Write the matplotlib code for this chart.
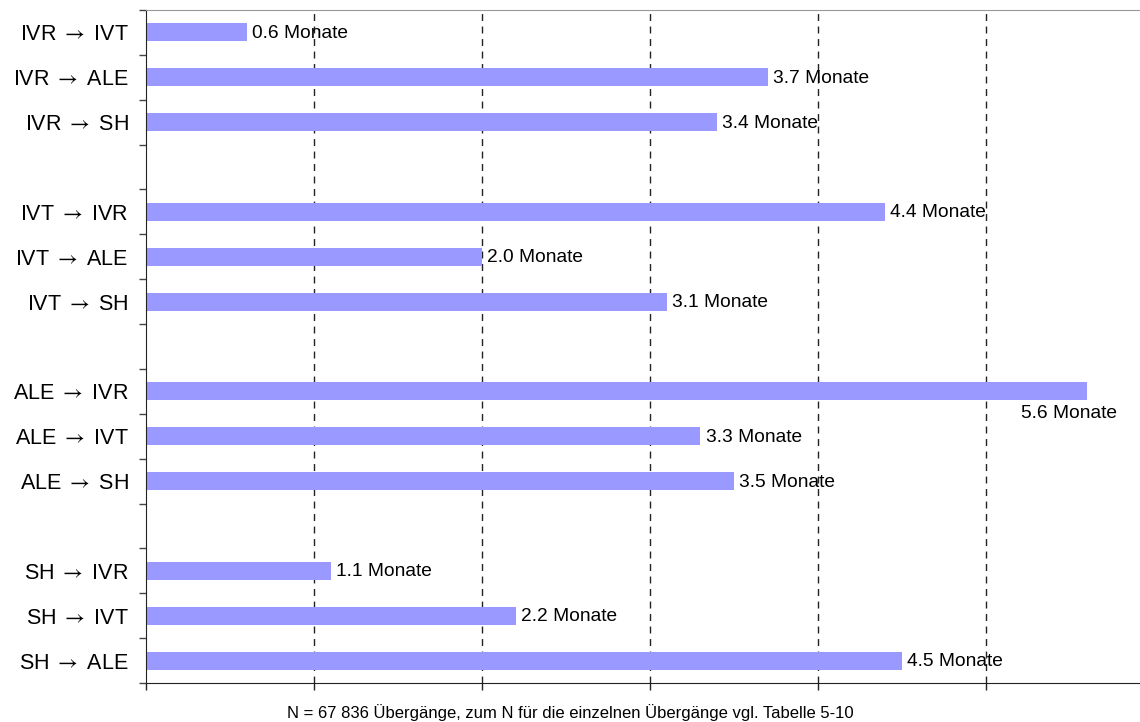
import numpy as np
import matplotlib
matplotlib.use('Agg')
import matplotlib.pyplot as plt

plt.rcParams['font.family'] = ['Liberation Sans', 'DejaVu Sans']
plt.rcParams['mathtext.fontset'] = 'stix'

# transitions grouped by origin state, each group separated by an empty row
GROUPS = [
    ["IVR → IVT", "IVR → ALE", "IVR → SH"],
    ["IVT → IVR", "IVT → ALE", "IVT → SH"],
    ["ALE → IVR", "ALE → IVT", "ALE → SH"],
    ["SH → IVR", "SH → IVT", "SH → ALE"],
]
MONTHS = [
    [0.6, 3.7, 3.4],
    [4.4, 2.0, 3.1],
    [5.6, 3.3, 3.5],
    [1.1, 2.2, 4.5],
]
NOTE = "N = 67 836 Übergänge, zum N für die einzelnen Übergänge vgl. Tabelle 5-10"

BAR_COLOR = '#9999FF'

labels, values, rows = [], [], []
row = 0
for names, vals in zip(GROUPS, MONTHS):
    for n, v in zip(names, vals):
        labels.append(n)
        values.append(v)
        rows.append(row)
        row += 1
    row += 1
n_rows = row - 1

W, H = 1140, 722
fig = plt.figure(figsize=(W / 100, H / 100), dpi=100)
ax = fig.add_axes([146 / W, 1 - 683 / H, 1 - 146 / W, (683 - 10) / H])

ax.barh(rows, values, height=0.4, color=BAR_COLOR, zorder=2)

ax.set_xlim(0, (W - 146) / 168)
ax.set_ylim(n_rows - 0.5, -0.5)

for x in range(1, 6):
    ax.axvline(x, color='#222222', lw=1, ls=(0, (5, 4)), zorder=1)

for r, v in zip(rows, values):
    txt = f"{v:.1f} Monate"
    if v > 5.2:
        ax.annotate(txt, (v, r), xytext=(22, -16), textcoords='offset points',
                    ha='right', va='center', fontsize=13.8, zorder=3)
    else:
        ax.annotate(txt, (v, r), xytext=(3.8, -0.7), textcoords='offset points',
                    ha='left', va='center', fontsize=13.8, zorder=3)

# thin, centred arrow from the math font
tick_text = [s.replace(' → ', r' $\rightarrow$ ') for s in labels]

# boundary ticks between rows, labels at row centres
ax.set_yticks(np.arange(-0.5, n_rows, 1.0))
ax.set_yticklabels([])
ax.set_yticks(rows, minor=True)
ax.set_yticklabels(tick_text, minor=True, fontsize=15.5)
ax.tick_params(axis='y', which='major', length=5, width=1, color='#444444')
ax.tick_params(axis='y', which='minor', length=0, pad=12.5)

ax.set_xticks(range(0, 6))
ax.set_xticklabels([])
ax.tick_params(axis='x', length=5, width=1, color='#222222')

ax.spines['right'].set_visible(False)
ax.spines['top'].set_color('#999999')
ax.spines['left'].set_color('#222222')
ax.spines['bottom'].set_color('#222222')

fig.text(0.5, 1 - 713 / H, NOTE, ha='center', va='center', fontsize=12)

fig.savefig('out.png', dpi=100)
